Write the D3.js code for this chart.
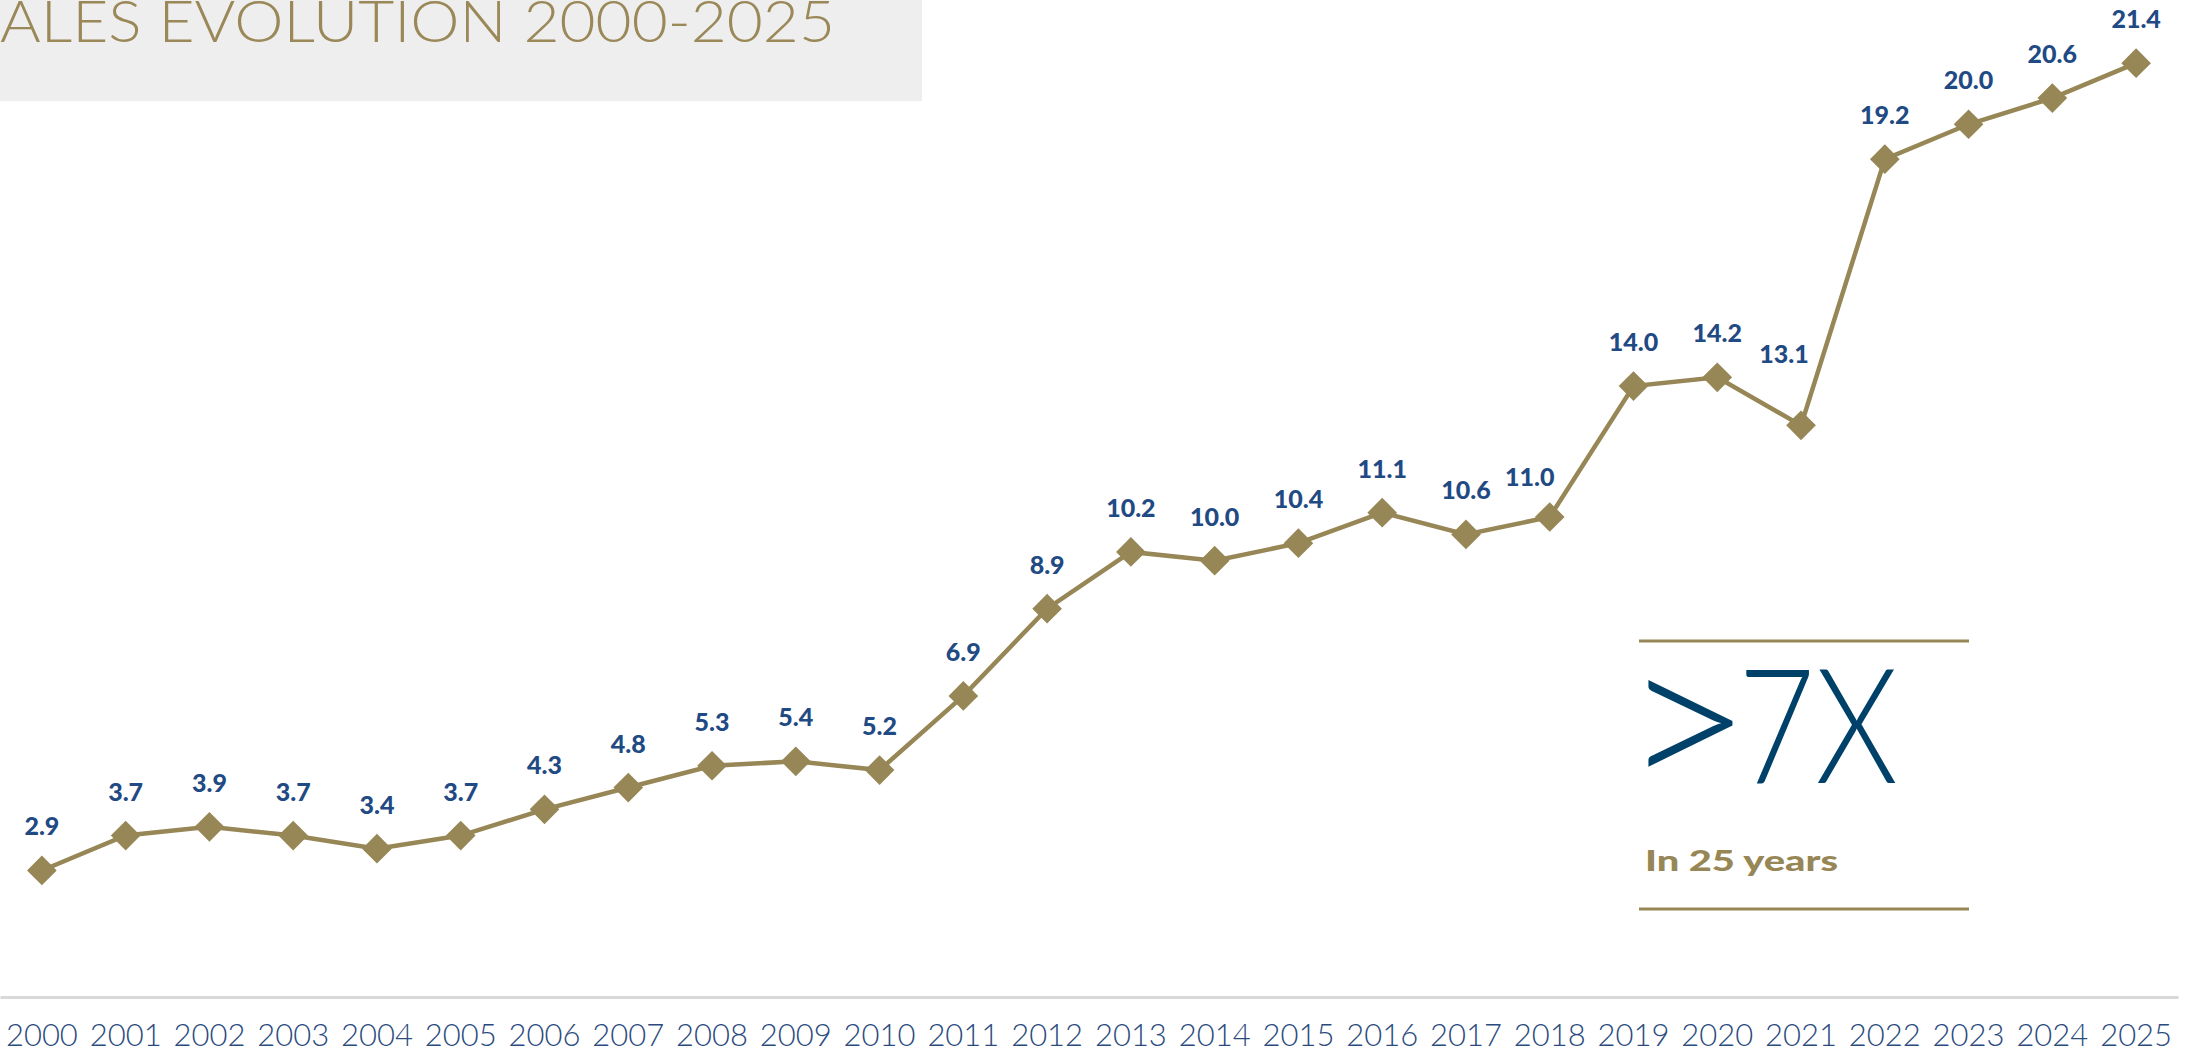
<!DOCTYPE html>
<html>
<head>
<meta charset="utf-8">
<script src="https://cdn.jsdelivr.net/npm/d3@7"></script>
<style>
  html, body { margin: 0; padding: 0; background: #fff; overflow: hidden; }
</style>
</head>
<body>
<div class="content"></div>
<script>
const w = 2193;
const h = 1052;

// data
const years = ['2000', '2001', '2002', '2003', '2004', '2005', '2006', '2007', '2008', '2009',
	'2010', '2011', '2012', '2013', '2014', '2015', '2016', '2017', '2018', '2019',
	'2020', '2021', '2022', '2023', '2024', '2025'];
const sales = [2.9, 3.7, 3.9, 3.7, 3.4, 3.7, 4.3, 4.8, 5.3, 5.4,
	5.2, 6.9, 8.9, 10.2, 10.0, 10.4, 11.1, 10.6, 11.0, 14.0,
	14.2, 13.1, 19.2, 20.0, 20.6, 21.4];
const title = 'ALES EVOLUTION 2000-2025';
const bigSign = '>';
const bigNumber = '7X';
const bigCaption = 'In 25 years';

const gold = '#978756';
const blue = '#1f4a84';

const data = years.map((y, i) => ({ year: y, value: sales[i] }));

// labels nudged off the line where they would collide
const nudge = { '2018': [-20, 4], '2021': [-17, -27] };

const svg = d3.select('.content').append('svg')
	.attr('width', w)
	.attr('height', h);

// title band
svg.append('rect')
	.attr('x', 0)
	.attr('y', 0)
	.attr('width', 922)
	.attr('height', 101)
	.attr('fill', '#eeeeee');

svg.append('text')
	.attr('x', 0)
	.attr('y', 42)
	.attr('textLength', 835)
	.attr('lengthAdjust', 'spacingAndGlyphs')
	.style('font-family', 'Lato, "DejaVu Sans", sans-serif')
	.style('font-weight', 300)
	.style('font-size', '58px')
	.attr('fill', '#9a8858')
	.text(title);

const x = d3.scaleBand()
	.domain(years)
	.range([0, 2178]);

const y = d3.scaleLinear()
	.domain([0, 22])
	.range([997, 37]);

const cx = d => x(d.year) + x.bandwidth() / 2;

// x axis
const xAxis = svg.append('g')
	.attr('transform', `translate(0,${y(0)})`)
	.call(d3.axisBottom(x).tickSize(0).tickSizeOuter(0));

xAxis.select('.domain')
	.attr('stroke', '#d9d9d9')
	.attr('stroke-width', 3);

xAxis.selectAll('text')
	.attr('y', 49)
	.attr('dy', 0)
	.attr('fill', '#2b4b7e')
	.style('font-family', 'Lato, "DejaVu Sans", sans-serif')
	.style('font-weight', 300)
	.style('font-size', '31px');

// line
const line = d3.line()
	.x(cx)
	.y(d => y(d.value));

svg.append('path')
	.datum(data)
	.attr('fill', 'none')
	.attr('stroke', gold)
	.attr('stroke-width', 4.5)
	.attr('d', line);

// diamond markers
svg.selectAll('.marker')
	.data(data)
	.enter()
	.append('path')
	.attr('class', 'marker')
	.attr('d', d3.symbol(d3.symbolSquare, 440))
	.attr('transform', d => `translate(${cx(d)},${y(d.value)}) rotate(45)`)
	.attr('fill', gold);

// value labels
svg.selectAll('.value')
	.data(data)
	.enter()
	.append('text')
	.attr('class', 'value')
	.attr('x', d => cx(d) + (nudge[d.year] ? nudge[d.year][0] : 0))
	.attr('y', d => y(d.value) - 35 + (nudge[d.year] ? nudge[d.year][1] : 0))
	.attr('text-anchor', 'middle')
	.attr('fill', blue)
	.style('font-family', 'Lato, "DejaVu Sans", sans-serif')
	.style('font-weight', 900)
	.style('font-size', '25px')
	.text(d => d.value.toFixed(1));

// callout
const callout = svg.append('g');

callout.selectAll('line')
	.data([641, 909])
	.enter()
	.append('line')
	.attr('x1', 1639)
	.attr('x2', 1969)
	.attr('y1', d => d)
	.attr('y2', d => d)
	.attr('stroke', gold)
	.attr('stroke-width', 3);

callout.append('text')
	.attr('x', 1622)
	.attr('y', 795)
	.attr('textLength', 130)
	.attr('lengthAdjust', 'spacingAndGlyphs')
	.attr('fill', '#00416a')
	.style('font-family', 'Lato, "DejaVu Sans", sans-serif')
	.style('font-weight', 300)
	.style('font-size', '213px')
	.text(bigSign);

callout.append('text')
	.attr('x', 1738)
	.attr('y', 783)
	.attr('textLength', 160)
	.attr('lengthAdjust', 'spacingAndGlyphs')
	.attr('fill', '#00416a')
	.style('font-family', 'Lato, "DejaVu Sans", sans-serif')
	.style('font-weight', 300)
	.style('font-size', '160px')
	.text(bigNumber);

callout.append('text')
	.attr('x', 1645)
	.attr('y', 871)
	.attr('textLength', 193)
	.attr('lengthAdjust', 'spacingAndGlyphs')
	.attr('fill', gold)
	.style('font-family', 'Lato, "DejaVu Sans", sans-serif')
	.style('font-weight', 900)
	.style('font-size', '29px')
	.text(bigCaption);
</script>
</body>
</html>
